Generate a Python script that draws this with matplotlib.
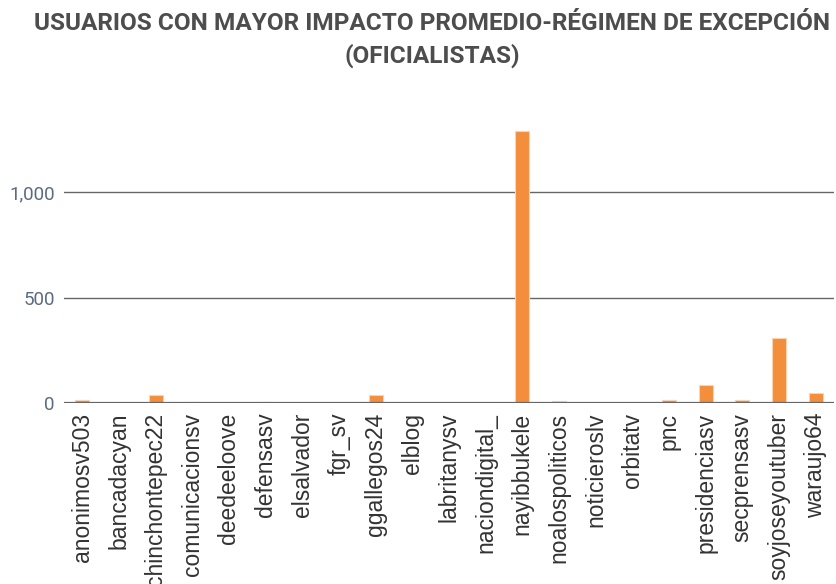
import matplotlib.pyplot as plt
from matplotlib.ticker import FuncFormatter

# ----------------------------
# Data
# ----------------------------
usuarios = [
    "anonimosv503", "bancadacyan", "chinchontepec22", "comunicacionsv",
    "deedeeloove", "defensasv", "elsalvador", "fgr_sv", "ggallegos24",
    "elblog", "labritanysv", "naciondigital_", "nayibbukele",
    "noalospoliticos", "noticieroslv", "orbitatv", "pnc", "presidenciasv",
    "secprensasv", "soyjoseyoutuber", "waraujo64",
]
impacto = [16, 2, 38, 6, 2, 6, 2, 2, 38, 2, 2, 2, 1290, 11, 2, 2, 15, 85, 15, 308, 47]

titulo = "USUARIOS CON MAYOR IMPACTO PROMEDIO-RÉGIMEN DE EXCEPCIÓN\n(OFICIALISTAS)"

# ----------------------------
# Plot
# ----------------------------
fig = plt.figure(figsize=(8.36, 5.84), dpi=100)
ax = fig.add_axes([64 / 836, 181 / 584, 770 / 836, 295 / 584])

x = range(len(usuarios))
ax.bar(x, impacto, width=0.38, color="#f28e3c", edgecolor="#fbd3b0", linewidth=0.8, zorder=3)

ax.set_xlim(-0.5, len(usuarios) - 0.5)
ax.set_ylim(0, 1400)
ax.set_yticks([0, 500, 1000])
ax.yaxis.set_major_formatter(FuncFormatter(lambda v, p: f"{int(v):,}"))
ax.grid(axis="y", color="#666666", linewidth=1.0, zorder=1)
ax.axhline(0, color="#666666", linewidth=1.6, zorder=4)

ax.set_xticks(list(x))
ax.set_xticklabels(usuarios, rotation=90, fontsize=16.5, color="#333333",
                   family="Liberation Sans")
ax.tick_params(axis="y", length=0, pad=6.5, labelsize=13.5, labelcolor="#5b6b82")
ax.tick_params(axis="x", length=0, pad=7)
for lbl in ax.get_yticklabels():
    lbl.set_family("Roboto")
for s in ax.spines.values():
    s.set_visible(False)

fig.text(432 / 836, 1 - 12 / 584, titulo, ha="center", va="top", fontsize=17.6,
         fontweight="bold", color="#4d4d4d",
         family=["Roboto", "DejaVu Sans"], linespacing=1.45)

fig.savefig("out.png", dpi=100)
